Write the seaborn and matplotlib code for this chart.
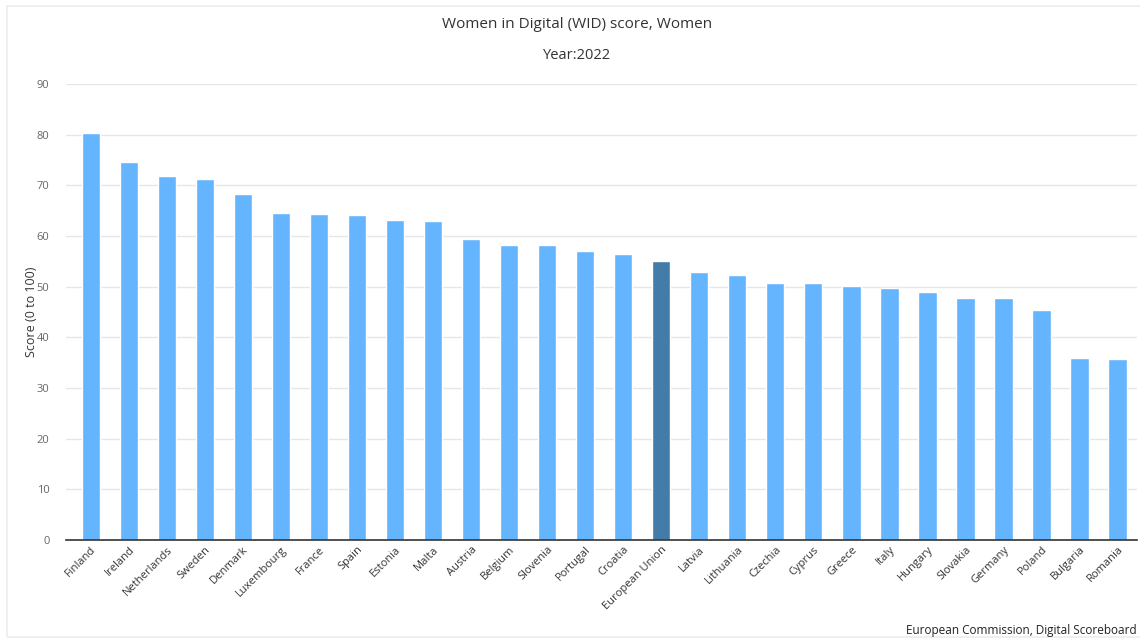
import matplotlib
matplotlib.use("Agg")
import matplotlib.pyplot as plt
import seaborn as sns
import pandas as pd
from matplotlib.patches import Rectangle

# =========================================
# Data
# =========================================
countries = ["Finland", "Ireland", "Netherlands", "Sweden", "Denmark", "Luxembourg",
             "France", "Spain", "Estonia", "Malta", "Austria", "Belgium", "Slovenia",
             "Portugal", "Croatia", "European Union", "Latvia", "Lithuania", "Czechia",
             "Cyprus", "Greece", "Italy", "Hungary", "Slovakia", "Germany", "Poland",
             "Bulgaria", "Romania"]
scores = [80.3, 74.6, 71.8, 71.2, 68.3, 64.5, 64.3, 64.1, 63.1, 62.9, 59.4, 58.2, 58.2,
          57.0, 56.4, 55.0, 52.9, 52.3, 50.8, 50.8, 50.1, 49.7, 48.9, 47.8, 47.8, 45.3,
          35.9, 35.7]
y_ticks = [0, 10, 20, 30, 40, 50, 60, 70, 80, 90]

df = pd.DataFrame({"country": countries, "score": scores})
df["group"] = ["EU" if c == "European Union" else "Country" for c in countries]

BAR_COLOR = "#64b5fe"
EU_COLOR = "#437ba9"

# =========================================
# Plot
# =========================================
sns.set_style("white")
plt.rcParams["font.family"] = ["Open Sans", "DejaVu Sans"]

fig = plt.figure(figsize=(11.4, 6.39), dpi=100)
ax = fig.add_axes([0.058, 0.155, 0.939, 0.7135])

sns.barplot(data=df, x="country", y="score", hue="group",
            palette={"Country": BAR_COLOR, "EU": EU_COLOR},
            dodge=False, width=0.48, legend=False, ax=ax, saturation=1)

ax.set_ylim(0, 90)
ax.set_xlim(-0.65, 27.5)
ax.set_yticks(y_ticks)
ax.yaxis.grid(True, color="#e6e6e6", linewidth=1)
ax.set_axisbelow(True)
for s in ["top", "right", "left"]:
    ax.spines[s].set_visible(False)
ax.spines["bottom"].set_color("#333333")
ax.spines["bottom"].set_linewidth(1.2)

ax.tick_params(axis="y", length=0, labelsize=8, labelcolor="#666666", pad=12)
ax.tick_params(axis="x", length=0, labelsize=8, labelcolor="#333333", pad=3)
plt.setp(ax.get_xticklabels(), rotation=45, ha="right", rotation_mode="anchor")

ax.set_xlabel("")
ax.set_ylabel("Score (0 to 100)", fontsize=9, color="#333333", labelpad=-1)

# faint outer frame like the source widget
fig.patches.append(Rectangle((0.006, 0.003), 1.0, 0.988, transform=fig.transFigure,
                             fill=False, edgecolor="#ececec", linewidth=1.2))

fig.text(0.506, 0.962, "Women in Digital (WID) score, Women", ha="center", va="center",
         fontsize=11, color="#333333")
fig.text(0.506, 0.913, "Year:2022", ha="center", va="center",
         fontsize=10.5, color="#333333")
fig.text(0.997, 0.014, "European Commission, Digital Scoreboard", ha="right", va="center",
         fontsize=8.5, color="#222222")

fig.savefig("out.png", dpi=100)
